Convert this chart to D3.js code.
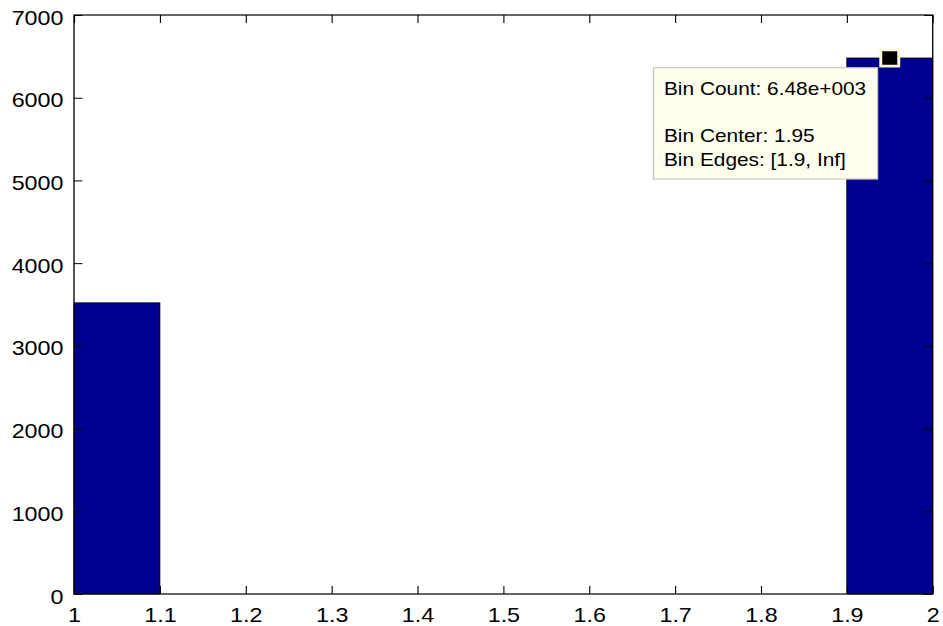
<!DOCTYPE html>
<html>
<head>
<meta charset="utf-8">
<script src="https://cdn.jsdelivr.net/npm/d3@7"></script>
<style>
  html, body { margin: 0; padding: 0; background: #ffffff; }
  svg { display: block; }
  text { font-family: "Liberation Sans", Arial, sans-serif; fill: #000; }
</style>
</head>
<body>
<svg id="chart"></svg>
<script>
// Histogram bins: edges, counts per bin
const binEdges = [1.0, 1.1, 1.2, 1.3, 1.4, 1.5, 1.6, 1.7, 1.8, 1.9, 2.0];
const binCounts = [3520, 0, 0, 0, 0, 0, 0, 0, 0, 6480];
const xTickValues = [1, 1.1, 1.2, 1.3, 1.4, 1.5, 1.6, 1.7, 1.8, 1.9, 2];
const xTickLabels = ["1", "1.1", "1.2", "1.3", "1.4", "1.5", "1.6", "1.7", "1.8", "1.9", "2"];
const yTickValues = [0, 1000, 2000, 3000, 4000, 5000, 6000, 7000];
const yTickLabels = ["0", "1000", "2000", "3000", "4000", "5000", "6000", "7000"];

// Data tip on the last bin
const tipBin = 9;
const tipCenter = 1.95;
const tipLines = ["Bin Count: 6.48e+003", "", "Bin Center: 1.95", "Bin Edges: [1.9, Inf]"];

(function draw() {
  // The figure uses a horizontally stretched coordinate system
  const pixelW = 943, pixelH = 626;
  const vbW = 850;
  const svg = d3.select("#chart")
    .attr("width", pixelW).attr("height", pixelH)
    .attr("viewBox", `0 0 ${vbW} ${pixelH}`)
    .attr("preserveAspectRatio", "none");

  const plotLeft = 66.7, plotRight = 840.7, plotTop = 15, plotBottom = 594;

  const x = d3.scaleLinear().domain([1, 2]).range([plotLeft, plotRight]);
  const y = d3.scaleLinear().domain([0, 7000]).range([plotBottom, plotTop]);

  const bins = binCounts.map((c, i) => ({ x0: binEdges[i], x1: binEdges[i + 1], count: c }));

  // Bars
  svg.append("g").selectAll("rect")
    .data(bins.filter(d => d.count > 0))
    .join("rect")
    .attr("x", d => x(d.x0))
    .attr("y", d => y(d.count))
    .attr("width", d => x(d.x1) - x(d.x0))
    .attr("height", d => y(0) - y(d.count))
    .attr("fill", "#000090")
    .attr("stroke", "#000")
    .attr("stroke-width", 0.8);

  const tickLen = 8;
  const tickStroke = "#000";
  const labelFont = "Liberation Sans, Arial, sans-serif";

  // Bottom axis with inward ticks
  const gx = svg.append("g").attr("transform", `translate(0,${plotBottom})`)
    .call(d3.axisBottom(x).tickValues(xTickValues)
      .tickFormat((d, i) => xTickLabels[i])
      .tickSizeInner(-tickLen).tickSizeOuter(0).tickPadding(0));
  gx.select(".domain").remove();
  gx.selectAll("line").attr("stroke", tickStroke).attr("stroke-width", 1);
  gx.selectAll("text").attr("y", 27.7).attr("dy", null)
    .attr("font-size", 21).attr("font-family", labelFont).attr("fill", "#000");

  // Top axis ticks (no labels)
  const gxt = svg.append("g").attr("transform", `translate(0,${plotTop})`)
    .call(d3.axisTop(x).tickValues(xTickValues).tickFormat("")
      .tickSizeInner(-tickLen).tickSizeOuter(0));
  gxt.select(".domain").remove();
  gxt.selectAll("line").attr("stroke", tickStroke).attr("stroke-width", 1);

  // Left axis with inward ticks
  const gy = svg.append("g").attr("transform", `translate(${plotLeft},0)`)
    .call(d3.axisLeft(y).tickValues(yTickValues)
      .tickFormat((d, i) => yTickLabels[i])
      .tickSizeInner(-tickLen * 0.95).tickSizeOuter(0).tickPadding(0));
  gy.select(".domain").remove();
  gy.selectAll("line").attr("stroke", tickStroke).attr("stroke-width", 1);
  gy.selectAll("text").attr("x", -9.5).attr("dy", null).attr("y", 9)
    .attr("font-size", 21).attr("font-family", labelFont).attr("fill", "#000");

  // Right axis ticks
  const gyr = svg.append("g").attr("transform", `translate(${plotRight},0)`)
    .call(d3.axisRight(y).tickValues(yTickValues).tickFormat("")
      .tickSizeInner(-tickLen * 0.95).tickSizeOuter(0));
  gyr.select(".domain").remove();
  gyr.selectAll("line").attr("stroke", tickStroke).attr("stroke-width", 1);

  // Axes box
  svg.append("rect")
    .attr("x", plotLeft).attr("y", plotTop)
    .attr("width", plotRight - plotLeft).attr("height", plotBottom - plotTop)
    .attr("fill", "none").attr("stroke", "#000").attr("stroke-width", 1.2);

  // Data tip marker
  const mx = x(tipCenter), my = y(binCounts[tipBin]);
  const ms = 13.5;
  svg.append("rect")
    .attr("x", mx - ms / 2 - 2.7).attr("y", my - ms / 2 - 2.7)
    .attr("width", ms + 5.4).attr("height", ms + 5.4)
    .attr("fill", "#fdf9d8");
  svg.append("rect")
    .attr("x", mx - ms / 2).attr("y", my - ms / 2)
    .attr("width", ms).attr("height", ms)
    .attr("fill", "#000");

  // Data tip box
  const boxW = 202, boxH = 111.3;
  const boxX = mx - 11 - boxW, boxY = my + 9.7;
  const tip = svg.append("g");
  tip.append("rect")
    .attr("x", boxX).attr("y", boxY)
    .attr("width", boxW).attr("height", boxH)
    .attr("fill", "#ffffee")
    .attr("stroke", "#c8c8c0").attr("stroke-width", 1.2);
  const baselines = [boxY + 27.3, boxY + 50.7, boxY + 74, boxY + 98];
  tip.selectAll("text")
    .data(tipLines)
    .join("text")
    .attr("x", boxX + 9.5)
    .attr("y", (d, i) => baselines[i])
    .attr("font-size", 18.8)
    .attr("fill", "#111")
    .text(d => d);
})();
</script>
</body>
</html>
